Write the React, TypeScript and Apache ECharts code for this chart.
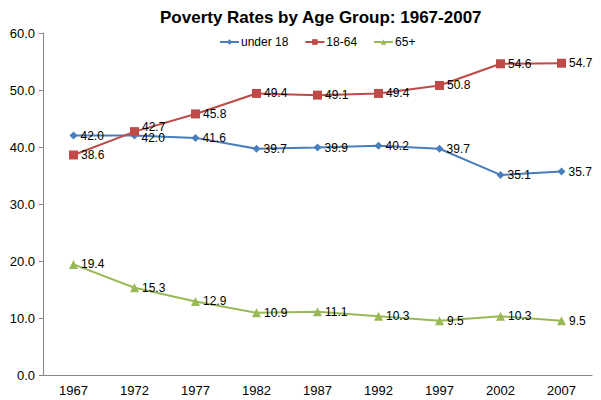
import React, { useEffect, useRef } from "react";
import * as echarts from "echarts";

const years = ["1967", "1972", "1977", "1982", "1987", "1992", "1997", "2002", "2007"];
const under18 = [42.0, 42.0, 41.6, 39.7, 39.9, 40.2, 39.7, 35.1, 35.7];
const adults = [38.6, 42.7, 45.8, 49.4, 49.1, 49.4, 50.8, 54.6, 54.7];
const seniors = [19.4, 15.3, 12.9, 10.9, 11.1, 10.3, 9.5, 10.3, 9.5];

const FONT = "'Liberation Sans', Arial, Helvetica, sans-serif";

export default function App() {
  const ref = useRef<HTMLDivElement>(null);
  useEffect(() => {
    if (!ref.current) return;
    document.body.style.margin = "0";
    const chart = echarts.init(ref.current, null, { renderer: "svg" });
    const label = {
      show: true,
      position: "right",
      distance: 3,
      color: "#000",
      fontSize: 12,
      fontFamily: FONT,
      formatter: (p: any) => Number(p.value).toFixed(1),
    };
    const withShift = (data: number[], idx: number, dy: number) =>
      data.map((v, i) => (i === idx ? { value: v, label: { offset: [0, dy] } } : v));
    const mk = (name: string, data: any[], color: string, symbol: string, size: number) => ({
      name,
      type: "line",
      data,
      symbol,
      symbolSize: size,
      itemStyle: { color },
      lineStyle: { color, width: 2 },
      label,
    });
    chart.setOption({
      animation: false,
      backgroundColor: "#fff",
      title: {
        text: "Poverty Rates by Age Group: 1967-2007",
        left: 155,
        top: 4,
        textStyle: { fontFamily: FONT, fontSize: 17, fontWeight: "bold", color: "#000" },
      },
      legend: {
        top: 31,
        left: 214,
        itemWidth: 19,
        itemHeight: 7,
        itemGap: 16,
        textStyle: { fontFamily: FONT, fontSize: 12, color: "#000", padding: [0, 0, 0, -3] },
        data: ["under 18", "18-64", "65+"],
      },
      grid: { left: 43, right: 9, top: 33, bottom: 25, containLabel: false },
      xAxis: {
        type: "category",
        data: years,
        boundaryGap: true,
        axisLine: { lineStyle: { color: "#868686", width: 1 } },
        axisTick: { show: false },
        axisLabel: { color: "#000", fontSize: 13, fontFamily: FONT, margin: 9 },
      },
      yAxis: {
        type: "value",
        min: 0,
        max: 60,
        interval: 10,
        axisLine: { show: true, lineStyle: { color: "#868686", width: 1 } },
        axisTick: { show: true, length: 4, lineStyle: { color: "#868686" } },
        splitLine: { show: false },
        axisLabel: {
          color: "#000",
          fontSize: 13,
          fontFamily: FONT,
          margin: 8,
          formatter: (v: number) => v.toFixed(1),
        },
      },
      series: [
        mk("under 18", withShift(under18, 1, 2), "#4A7EBB", "diamond", 8),
        mk("18-64", withShift(adults, 1, -5), "#BE4B48", "rect", 9),
        mk("65+", seniors, "#98B954", "triangle", 9),
      ],
    });
    return () => chart.dispose();
  }, []);
  return <div ref={ref} style={{ width: 601, height: 400 }} />;
}
